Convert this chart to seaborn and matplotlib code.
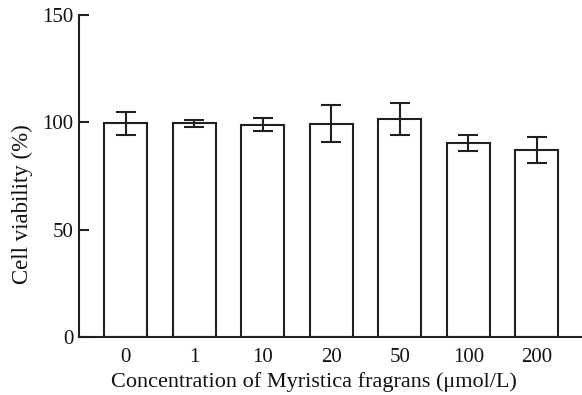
import matplotlib
matplotlib.use("Agg")
import matplotlib.pyplot as plt
import seaborn as sns
import pandas as pd
import numpy as np

concentrations = ["0", "1", "10", "20", "50", "100", "200"]
viability = [99.5, 99.5, 98.9, 99.4, 101.5, 90.2, 87.1]
errors = [5.3, 1.5, 3.0, 8.5, 7.3, 3.7, 6.0]
y_ticks = [0, 50, 100, 150]

sns.set_theme(style="ticks")
plt.rcParams["font.family"] = ["Liberation Serif", "DejaVu Serif"]

df = pd.DataFrame({"conc": concentrations, "viab": viability})

fig = plt.figure(figsize=(5.82, 3.95), dpi=100)
ax = fig.add_axes([79/582, 1-337/395, 1-79/582, (337-15)/395])

ink = "#231f20"
sns.barplot(data=df, x="conc", y="viab", order=concentrations, color="white",
            edgecolor=ink, linewidth=1.5, width=0.625, errorbar=None, ax=ax,
            saturation=1)
pos = np.arange(len(concentrations))
ax.errorbar(pos, viability, yerr=errors, fmt="none", ecolor=ink,
            elinewidth=1.5, capsize=7.5, capthick=1.5, zorder=5)

ax.set_ylim(0, 150)
ax.set_yticks(y_ticks)
ax.set_xlim(-0.68, 6.66)
ax.set_xlabel("Concentration of Myristica fragrans (μmol/L)", fontsize=16, color="#111")
ax.set_ylabel("Cell viability (%)", fontsize=16.5, color="#111")
ax.xaxis.set_label_coords(0.467, -0.11)
ax.yaxis.set_label_coords(-0.092, 0.413)
ax.tick_params(axis="y", direction="in", length=7, width=1.5, labelsize=15, colors=ink, pad=4)
ax.tick_params(axis="x", length=0, labelsize=15, colors=ink, pad=8)
for lab in ax.get_xticklabels() + ax.get_yticklabels():
    lab.set_color("#111")
sns.despine(ax=ax, top=True, right=True)
ax.spines["left"].set_linewidth(1.5)
ax.spines["bottom"].set_linewidth(1.5)
ax.spines["left"].set_color(ink)
ax.spines["bottom"].set_color(ink)

fig.savefig("out.png", dpi=100)
